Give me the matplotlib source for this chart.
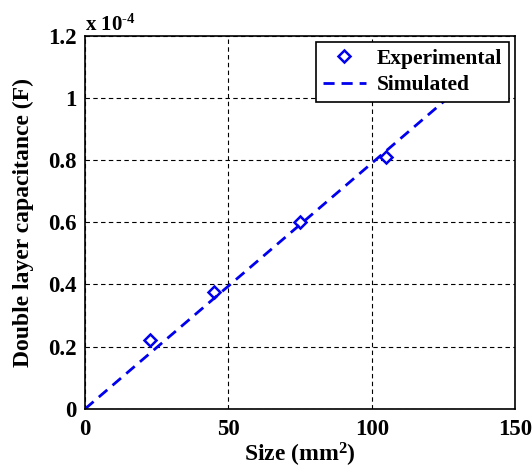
import matplotlib
matplotlib.use("Agg")
import matplotlib.pyplot as plt
from matplotlib.ticker import FuncFormatter

# data (capacitance in units of 1e-4 F)
size_exp = [22.8, 45, 75, 105]
cap_exp = [0.223, 0.376, 0.601, 0.809]
size_sim = [0, 130]
cap_sim = [0, 1.027]
scale = 1e-4

xticks = [0, 50, 100, 150]
yticks = [0, 0.2, 0.4, 0.6, 0.8, 1.0, 1.2]

plt.rcParams['font.family'] = ['Liberation Serif', 'DejaVu Serif']
plt.rcParams['font.weight'] = 'bold'
plt.rcParams['mathtext.fontset'] = 'custom'
plt.rcParams['mathtext.rm'] = 'Liberation Serif:bold'
plt.rcParams['mathtext.it'] = 'Liberation Serif:bold'
plt.rcParams['mathtext.bf'] = 'Liberation Serif:bold'

fig = plt.figure(figsize=(5.32, 4.71), dpi=100)
ax = fig.add_axes([0.16, 0.132, 0.808, 0.792])

ax.plot(size_exp, [c * scale for c in cap_exp], linestyle='none', marker='D',
        markersize=6, markerfacecolor='white', markeredgecolor='#0000ee',
        markeredgewidth=1.8, label='Experimental')
ax.plot(size_sim, [c * scale for c in cap_sim], '--', color='#0000ee',
        linewidth=2, dashes=(4, 2.5), label='Simulated')

ax.set_xlim(0, 150)
ax.set_ylim(0, 1.2 * scale)
ax.set_xticks(xticks)
ax.set_yticks([t * scale for t in yticks])
ax.yaxis.set_major_formatter(FuncFormatter(lambda v, p: '%g' % round(v / scale, 3)))
ax.tick_params(labelsize=16.5, direction='in', length=0)
ax.tick_params(axis='y', pad=6)
ax.tick_params(axis='x', pad=7)
ax.grid(True, color='black', linestyle=(0, (4, 3)), linewidth=0.8)
for s in ax.spines.values():
    s.set_linewidth(1.2)

ax.text(0.0, 1.0, 'x 10$^{\\text{-}4}$', transform=ax.transAxes, fontsize=15,
        fontweight='bold', ha='left', va='bottom')

ax.set_xlabel('Size (mm$^2$)', fontsize=17, fontweight='bold', labelpad=1)
ax.set_ylabel('Double layer capacitance (F)', fontsize=17, fontweight='bold', labelpad=10)

leg = ax.legend(loc='upper right', fontsize=15.5, fancybox=False, edgecolor='black',
                framealpha=1, borderpad=0.3, handlelength=2.0, borderaxespad=0.3,
                labelspacing=0.3, handletextpad=0.5)
leg.get_frame().set_linewidth(1.2)

fig.savefig('out.png', dpi=100)
